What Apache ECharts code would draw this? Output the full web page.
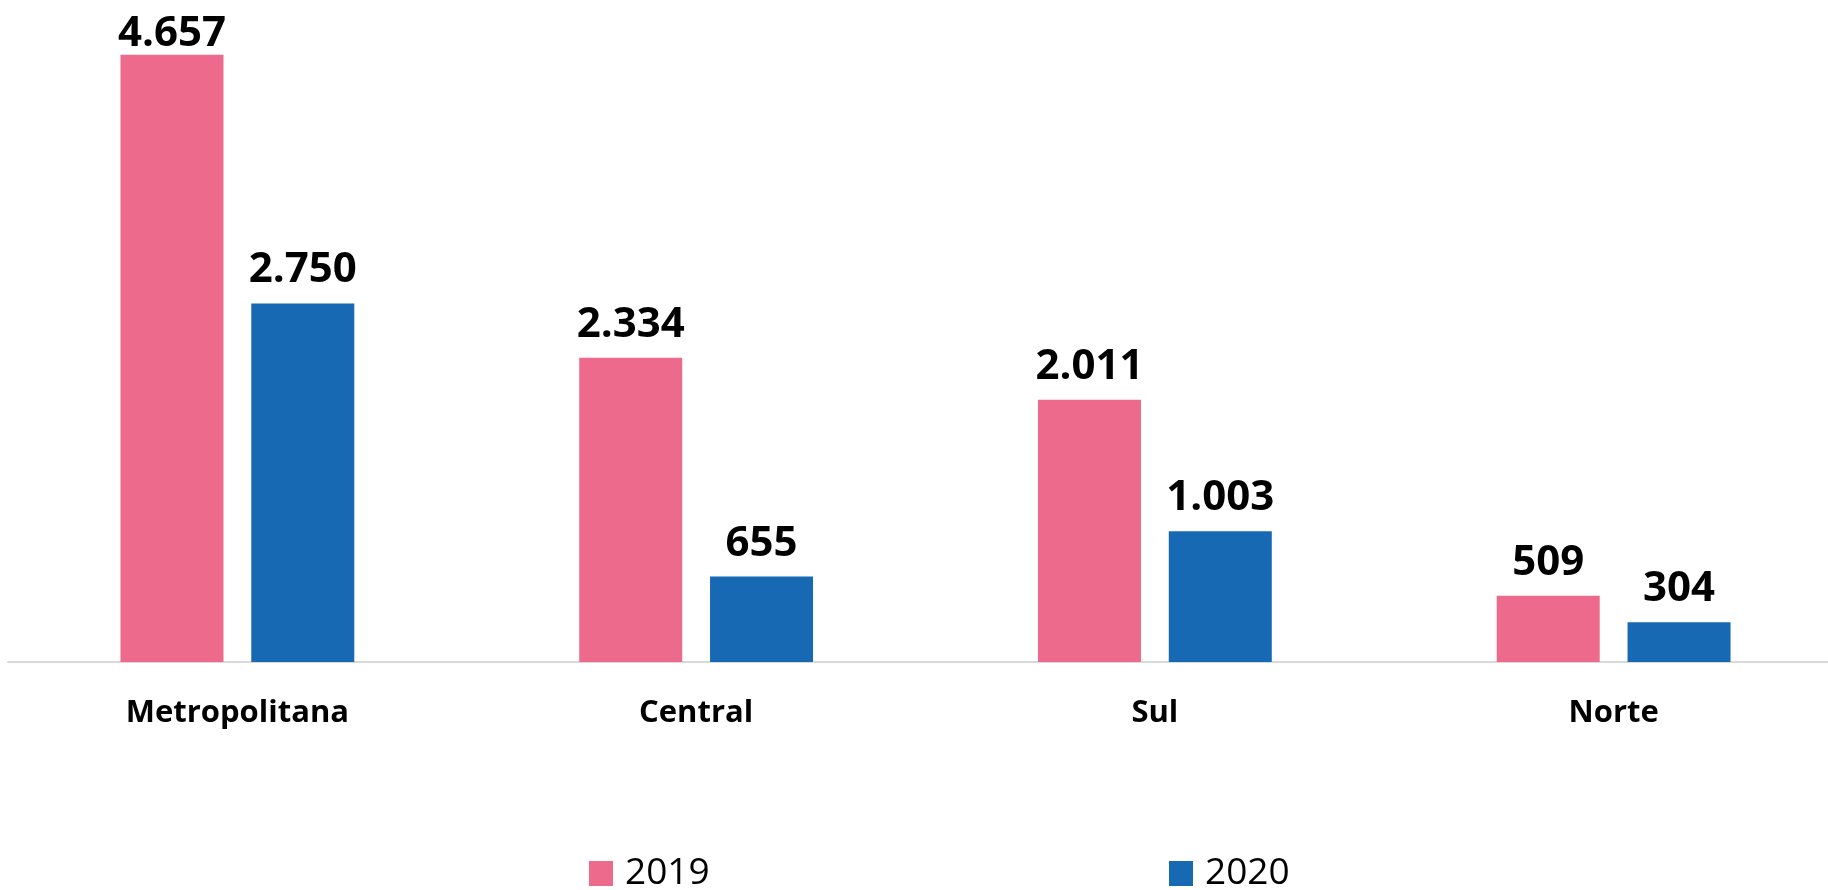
<!DOCTYPE html>
<html>
<head>
<meta charset="utf-8">
<script src="https://cdn.jsdelivr.net/npm/echarts@6/dist/echarts.min.js"></script>
<style>
  html, body { margin: 0; padding: 0; background: #fff; }
  #chart { width: 1828px; height: 890px; }
</style>
</head>
<body>
<div id="chart"></div>
<script>
// regiões e valores por ano
const regioes = ['Metropolitana', 'Central', 'Sul', 'Norte'];
const valores2019 = [4657, 2334, 2011, 509];
const valores2020 = [2750, 655, 1003, 304];

const corRosa = '#ED6A8C';
const corAzul = '#1669B2';

// formata 4657 -> 4.657
function fmt(v) {
  return String(v).replace(/\B(?=(\d{3})+(?!\d))/g, '.');
}

const rotulo = {
  show: true,
  position: 'top',
  distance: 12,
  fontFamily: 'Open Sans',
  fontWeight: 'bold',
  fontSize: 42,
  color: '#000',
  formatter: p => fmt(p.value)
};

// o rótulo da barra mais alta fica encostado no topo da área
function comRotulos(valores) {
  return valores.map(v => v > 4500 ? { value: v, label: { distance: 0 } } : v);
}

const legendaTexto = {
  fontFamily: 'Open Sans',
  fontSize: 37,
  color: '#000',
  padding: [0, 0, 0, 7]
};

let chart = echarts.init(document.getElementById('chart'));
chart.setOption({
  animation: false,
  grid: { left: 8, width: 1835, top: 10, bottom: 228, outerBoundsMode: 'none', containLabel: false },
  legend: [
    {
      data: ['2019'], left: 589, top: 855, padding: 0,
      icon: 'rect', itemWidth: 24, itemHeight: 25,
      textStyle: legendaTexto
    },
    {
      data: ['2020'], left: 1169, top: 855, padding: 0,
      icon: 'rect', itemWidth: 24, itemHeight: 25,
      textStyle: legendaTexto
    }
  ],
  xAxis: {
    type: 'category',
    data: regioes,
    axisLine: { lineStyle: { color: '#D9D9D9', width: 2 } },
    axisTick: { show: false },
    axisLabel: {
      margin: 36,
      fontFamily: 'Open Sans',
      fontWeight: 'bold',
      fontSize: 31,
      color: '#000'
    }
  },
  yAxis: {
    type: 'value',
    min: 0,
    max: 5000,
    show: false,
    splitLine: { show: false }
  },
  series: [
    {
      name: '2019',
      type: 'bar',
      data: comRotulos(valores2019),
      barWidth: 103,
      barGap: '27%',
      itemStyle: { color: corRosa },
      label: rotulo
    },
    {
      name: '2020',
      type: 'bar',
      data: comRotulos(valores2020),
      barWidth: 103,
      itemStyle: { color: corAzul },
      label: rotulo
    }
  ]
});
</script>
</body>
</html>
